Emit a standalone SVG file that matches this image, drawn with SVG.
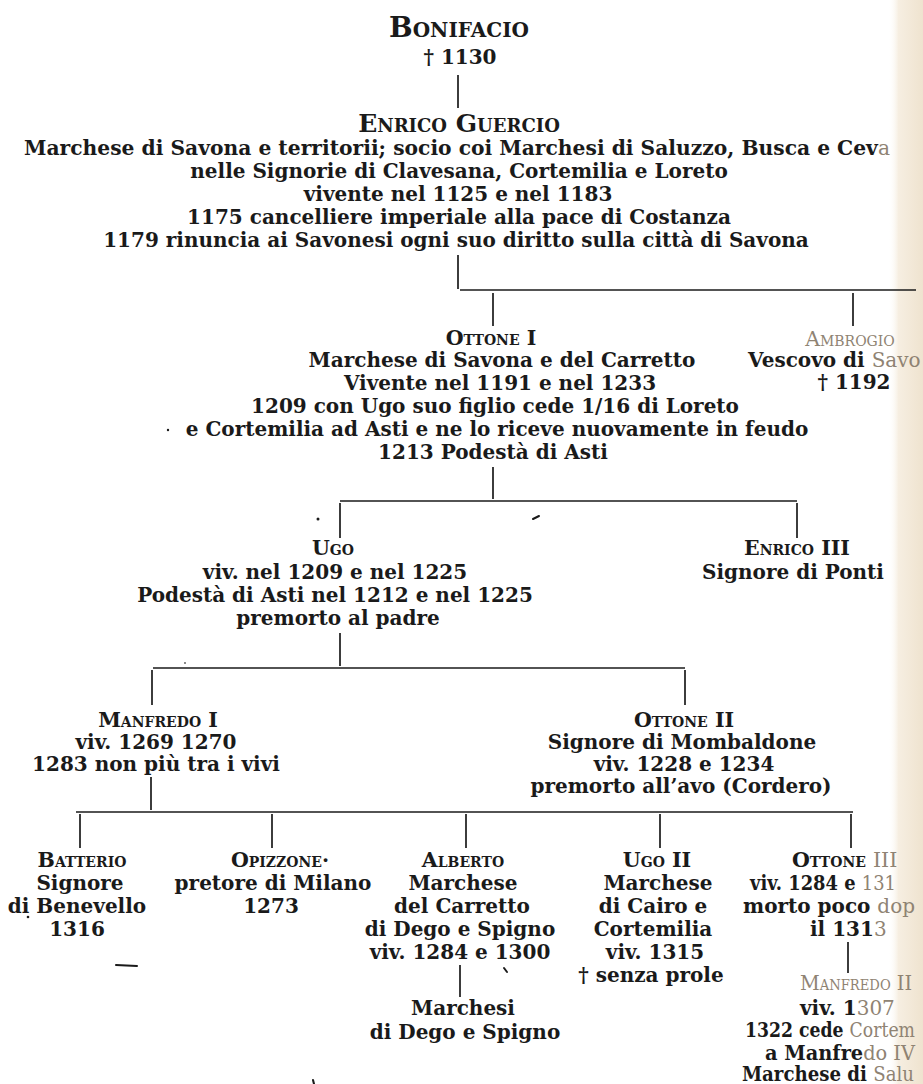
<svg xmlns="http://www.w3.org/2000/svg" width="923" height="1084" viewBox="0 0 923 1084">
<style>
.t{font-family:"DejaVu Serif","Liberation Serif",serif;font-size:20px;font-weight:bold;fill:#1a1a1a;text-anchor:middle}
.s{text-anchor:start}
.sc{font-variant:small-caps;font-size:20.5px}
.f{fill:#8f8373;font-weight:normal}
.ln{stroke:#1a1a1a;stroke-width:1.7;fill:none}
.mk{stroke:#1a1a1a;stroke-width:2;fill:none;stroke-linecap:round}
</style>
<defs>
<linearGradient id="pg" x1="0" x2="1" y1="0" y2="0">
<stop offset="0" stop-color="#ffffff" stop-opacity="0"/>
<stop offset="0.3" stop-color="#f6eee1"/>
<stop offset="1" stop-color="#efe3cf"/>
</linearGradient>
</defs>
<rect width="923" height="1084" fill="#ffffff"/>
<rect x="888" y="0" width="35" height="1084" fill="url(#pg)"/>

<g id="connectors">
<line class="ln" x1="458" y1="75" x2="458" y2="108"/>
<line class="ln" x1="458" y1="255" x2="458" y2="289"/>
<line class="ln" x1="460" y1="290" x2="916" y2="290"/>
<line class="ln" x1="493" y1="293" x2="493" y2="326"/>
<line class="ln" x1="853" y1="293" x2="853" y2="326"/>
<line class="ln" x1="493" y1="467" x2="493" y2="499"/>
<line class="ln" x1="340" y1="501" x2="797" y2="501"/>
<line class="ln" x1="340" y1="503" x2="340" y2="538"/>
<line class="ln" x1="797" y1="503" x2="797" y2="538"/>
<line class="ln" x1="340" y1="633" x2="340" y2="666"/>
<line class="ln" x1="153" y1="668" x2="685" y2="668"/>
<line class="ln" x1="152" y1="670" x2="152" y2="705"/>
<line class="ln" x1="685" y1="670" x2="685" y2="705"/>
<line class="ln" x1="151" y1="777" x2="151" y2="810"/>
<line class="ln" x1="76" y1="812" x2="853" y2="812"/>
<line class="ln" x1="80" y1="814" x2="80" y2="848"/>
<line class="ln" x1="272" y1="814" x2="272" y2="848"/>
<line class="ln" x1="466" y1="814" x2="466" y2="848"/>
<line class="ln" x1="660" y1="814" x2="660" y2="848"/>
<line class="ln" x1="851" y1="814" x2="851" y2="848"/>
<line class="ln" x1="460" y1="965" x2="460" y2="997"/>
<line class="ln" x1="848" y1="942" x2="848" y2="973"/>
</g>

<g id="marks">
<circle cx="168" cy="430" r="1.2" fill="#1a1a1a"/>
<circle cx="318" cy="519" r="1.5" fill="#1a1a1a"/>
<line class="mk" x1="533" y1="519" x2="539" y2="516"/>
<circle cx="185" cy="663" r="0.9" fill="#555"/>
<circle cx="28" cy="917" r="1.3" fill="#1a1a1a"/>
<line class="mk" x1="116" y1="965" x2="137" y2="966"/>
<line class="mk" x1="504" y1="968" x2="507" y2="972"/>
<line class="mk" x1="313" y1="1080" x2="314" y2="1084"/>
</g>

<g id="bonifacio">
<text class="t sc" x="459" y="37" style="font-size:28px">Bonifacio</text>
<text class="t" x="460" y="64">† 1130</text>
</g>

<g id="enrico-guercio">
<text class="t sc" x="459" y="132" style="font-size:25px">Enrico Guercio</text>
<text class="t" x="457" y="155" textLength="866" lengthAdjust="spacingAndGlyphs">Marchese di Savona e territorii; socio coi Marchesi di Saluzzo, Busca e Cev<tspan class="f">a</tspan></text>
<text class="t" x="459" y="178">nelle Signorie di Clavesana, Cortemilia e Loreto</text>
<text class="t" x="458" y="201">vivente nel 1125 e nel 1183</text>
<text class="t" x="459" y="224">1175 cancelliere imperiale alla pace di Costanza</text>
<text class="t" x="456" y="247">1179 rinuncia ai Savonesi ogni suo diritto sulla città di Savona</text>
</g>

<g id="ottone-i">
<text class="t sc" x="491" y="345">Ottone I</text>
<text class="t" x="502" y="367">Marchese di Savona e del Carretto</text>
<text class="t" x="500" y="390">Vivente nel 1191 e nel 1233</text>
<text class="t" x="495" y="413">1209 con Ugo suo figlio cede 1/16 di Loreto</text>
<text class="t" x="497" y="436">e Cortemilia ad Asti e ne lo riceve nuovamente in feudo</text>
<text class="t" x="493" y="459">1213 Podestà di Asti</text>
</g>

<g id="ambrogio">
<text class="t sc f" x="850" y="346">Ambrogio</text>
<text class="t s" x="748" y="367">Vescovo di <tspan class="f">Savo</tspan></text>
<text class="t" x="854" y="389">† 1192</text>
</g>

<g id="ugo">
<text class="t sc" x="333" y="555">Ugo</text>
<text class="t" x="335" y="579">viv. nel 1209 e nel 1225</text>
<text class="t" x="335" y="602">Podestà di Asti nel 1212 e nel 1225</text>
<text class="t" x="338" y="625">premorto al padre</text>
</g>

<g id="enrico-iii">
<text class="t sc" x="797" y="555">Enrico III</text>
<text class="t" x="793" y="579">Signore di Ponti</text>
</g>

<g id="manfredo-i">
<text class="t sc" x="158" y="727">Manfredo I</text>
<text class="t" x="156" y="749">viv. 1269 1270</text>
<text class="t" x="156" y="771">1283 non più tra i vivi</text>
</g>

<g id="ottone-ii">
<text class="t sc" x="684" y="727">Ottone II</text>
<text class="t" x="682" y="749">Signore di Mombaldone</text>
<text class="t" x="684" y="771">viv. 1228 e 1234</text>
<text class="t" x="681" y="793">premorto all’avo (Cordero)</text>
</g>

<g id="batterio">
<text class="t sc" x="82" y="867">Batterio</text>
<text class="t" x="80" y="890">Signore</text>
<text class="t" x="77" y="913">di Benevello</text>
<text class="t" x="77" y="936">1316</text>
</g>

<g id="opizzone">
<text class="t sc" x="280" y="867">Opizzone·</text>
<text class="t" x="273" y="890">pretore di Milano</text>
<text class="t" x="271" y="913">1273</text>
</g>

<g id="alberto">
<text class="t sc" x="463" y="867">Alberto</text>
<text class="t" x="463" y="890">Marchese</text>
<text class="t" x="462" y="913">del Carretto</text>
<text class="t" x="460" y="936">di Dego e Spigno</text>
<text class="t" x="460" y="959">viv. 1284 e 1300</text>
</g>

<g id="marchesi-dego">
<text class="t" x="463" y="1015">Marchesi</text>
<text class="t" x="465" y="1039">di Dego e Spigno</text>
</g>

<g id="ugo-ii">
<text class="t sc" x="657" y="867">Ugo II</text>
<text class="t" x="658" y="890">Marchese</text>
<text class="t" x="653" y="913">di Cairo e</text>
<text class="t" x="653" y="936">Cortemilia</text>
<text class="t" x="655" y="959">viv. 1315</text>
<text class="t" x="651" y="982">† senza prole</text>
</g>

<g id="ottone-iii">
<text class="t s sc" x="792" y="867">Ottone <tspan class="f">III</tspan></text>
<text class="t s" x="750" y="890" textLength="146" lengthAdjust="spacingAndGlyphs">viv. 1284 e <tspan class="f">131</tspan></text>
<text class="t s" x="743" y="913" textLength="172" lengthAdjust="spacingAndGlyphs">morto poco <tspan class="f">dop</tspan></text>
<text class="t s" x="810" y="936">il 131<tspan class="f">3</tspan></text>
</g>

<g id="manfredo-ii">
<text class="t s sc f" x="800" y="990" textLength="112" lengthAdjust="spacingAndGlyphs">Manfredo II</text>
<text class="t s" x="800" y="1015">viv. 1<tspan class="f">307</tspan></text>
<text class="t s" x="745" y="1037" textLength="170" lengthAdjust="spacingAndGlyphs">1322 cede <tspan class="f">Cortem</tspan></text>
<text class="t s" x="765" y="1060" textLength="150" lengthAdjust="spacingAndGlyphs">a Manfre<tspan class="f">do IV</tspan></text>
<text class="t s" x="742" y="1081" textLength="172" lengthAdjust="spacingAndGlyphs">Marchese di <tspan class="f">Salu</tspan></text>
</g>
</svg>
